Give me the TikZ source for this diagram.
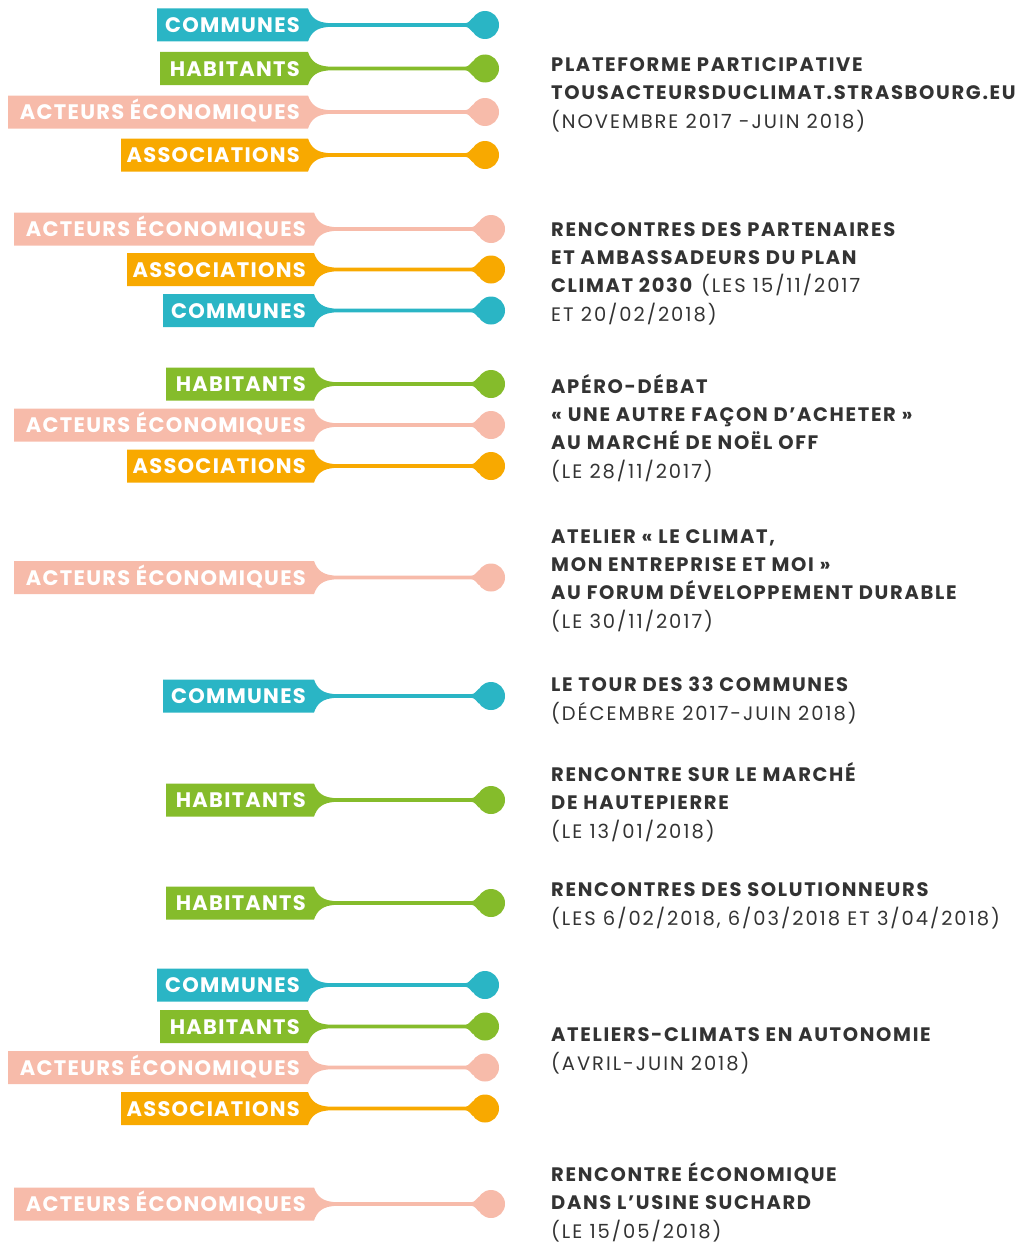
\documentclass[tikz,border=0pt]{standalone}
\usepackage{fontspec}
\setmainfont{Poppins}[LetterSpace=10, BoldFeatures={LetterSpace=8.5}]
\newfontfamily\tagfont{Poppins}[LetterSpace=6, BoldFeatures={LetterSpace=6}]
\usepackage{xcolor}
\usepackage{tikz}

\definecolor{comcol}{HTML}{2AB5C5}
\definecolor{habcol}{HTML}{85BC2B}
\definecolor{ecocol}{HTML}{F7BBAA}
\definecolor{assocol}{HTML}{F8A900}
\definecolor{ink}{HTML}{333333}

% one coloured tag: y, shift, colour, width, text, index
\newcommand{\eventtag}[6]{%
  \fill[#3] (308+#2-#4,#1-16.5) -- (308+#2,#1-16.5)
    .. controls (311+#2,#1-8) and (316+#2,#1-1.8) .. (332+#2,#1-1.8)
    -- (465+#2,#1-1.8) .. controls (469+#2,#1-1.8) and (470+#2,#1-5) .. (473+#2,#1-7.5)
    -- (485+#2,#1) -- (473+#2,#1+7.5)
    .. controls (470+#2,#1+5) and (469+#2,#1+1.8) .. (465+#2,#1+1.8)
    -- (332+#2,#1+1.8) .. controls (316+#2,#1+1.8) and (311+#2,#1+8) .. (308+#2,#1+16.5)
    -- (308+#2-#4,#1+16.5) -- cycle;
  \node[dot, fill=#3] (dot#6) at (485+#2,#1) {};
  \node[tagtext] (tag#6) at (300+#2,#1+7.5) {#5};
}

\begin{document}
\begin{tikzpicture}[x=1pt, y=-1pt,
  tagtext/.style={anchor=base east, inner sep=0pt, text=white,
    font=\tagfont\fontsize{21}{21}\selectfont\bfseries},
  dot/.style={circle, inner sep=0pt, minimum size=28pt},
  event/.style={anchor=base west, align=left, inner sep=0pt, text=ink,
    font=\fontsize{19.5}{28.3}\selectfont}]
  \useasboundingbox (0,0) rectangle (1021,1247);

  \foreach \y/\dx/\col/\w/\txt [count=\i] in {
    25/0/comcol/151/COMMUNES, 68.5/0/habcol/148/HABITANTS,
    112/0/ecocol/300/ACTEURS ÉCONOMIQUES, 155/0/assocol/187/ASSOCIATIONS,
    229/6/ecocol/300/ACTEURS ÉCONOMIQUES, 269.5/6/assocol/187/ASSOCIATIONS,
    310.5/6/comcol/151/COMMUNES,
    384/6/habcol/148/HABITANTS, 425/6/ecocol/300/ACTEURS ÉCONOMIQUES,
    466/6/assocol/187/ASSOCIATIONS,
    577.5/6/ecocol/300/ACTEURS ÉCONOMIQUES,
    696/6/comcol/151/COMMUNES,
    800/6/habcol/148/HABITANTS,
    903/6/habcol/148/HABITANTS,
    985/0/comcol/151/COMMUNES, 1026.5/0/habcol/148/HABITANTS,
    1067.5/0/ecocol/300/ACTEURS ÉCONOMIQUES, 1108.5/0/assocol/187/ASSOCIATIONS,
    1204/6/ecocol/300/ACTEURS ÉCONOMIQUES} {
    \eventtag{\y}{\dx}{\col}{\w}{\txt}{\i}
  }

  % events: anchored at the baseline of their last line
  \node[event] (ev1) at (551,128) {\textbf{PLATEFORME PARTICIPATIVE}\\
    \textbf{TOUSACTEURSDUCLIMAT.STRASBOURG.EU}\\(NOVEMBRE 2017 -JUIN 2018)};
  \node[event] (ev2) at (551,321) {\textbf{RENCONTRES DES PARTENAIRES}\\
    \textbf{ET AMBASSADEURS DU PLAN}\\\textbf{CLIMAT 2030} (LES 15/11/2017\\ET 20/02/2018)};
  \node[event] (ev3) at (551,478) {\textbf{APÉRO-DÉBAT}\\
    \textbf{« UNE AUTRE FAÇON D’ACHETER »}\\\textbf{AU MARCHÉ DE NOËL OFF}\\(LE 28/11/2017)};
  \node[event] (ev4) at (551,628) {\textbf{ATELIER « LE CLIMAT,}\\
    \textbf{MON ENTREPRISE ET MOI »}\\\textbf{AU FORUM DÉVELOPPEMENT DURABLE}\\(LE 30/11/2017)};
  \node[event] (ev5) at (551,720) {\textbf{LE TOUR DES 33 COMMUNES}\\(DÉCEMBRE 2017-JUIN 2018)};
  \node[event] (ev6) at (551,838) {\textbf{RENCONTRE SUR LE MARCHÉ}\\
    \textbf{DE HAUTEPIERRE}\\(LE 13/01/2018)};
  \node[event] (ev7) at (551,925) {\textbf{RENCONTRES DES SOLUTIONNEURS}\\
    (LES 6/02/2018, 6/03/2018 ET 3/04/2018)};
  \node[event] (ev8) at (551,1070) {\textbf{ATELIERS-CLIMATS EN AUTONOMIE}\\(AVRIL-JUIN 2018)};
  \node[event] (ev9) at (551,1238) {\textbf{RENCONTRE ÉCONOMIQUE}\\
    \textbf{DANS L’USINE SUCHARD}\\(LE 15/05/2018)};
\end{tikzpicture}
\end{document}
